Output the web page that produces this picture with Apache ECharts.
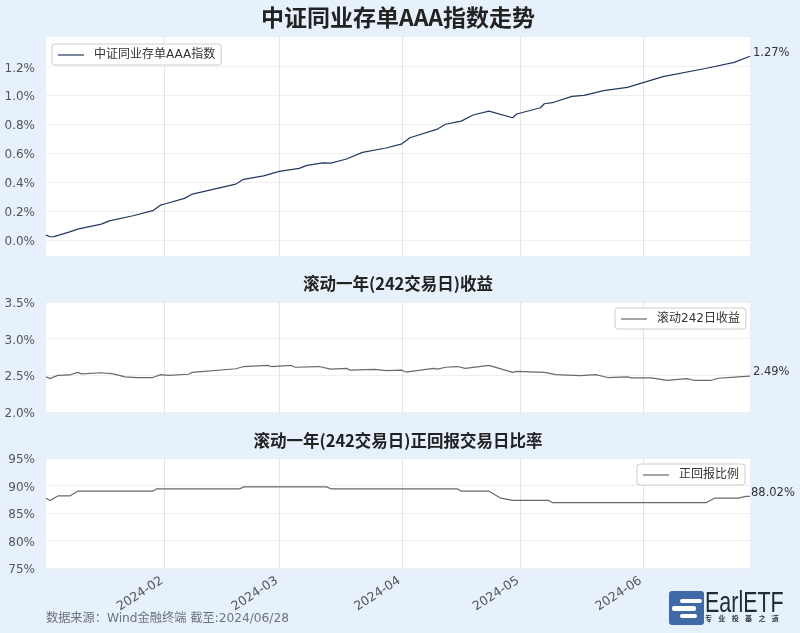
<!DOCTYPE html>
<html>
<head>
<meta charset="utf-8">
<title>中证同业存单AAA指数走势</title>
<script src="https://cdn.jsdelivr.net/npm/echarts@6/dist/echarts.min.js"></script>
<style>
html, body {margin: 0; padding: 0; background: #e7f1fb;}
#main {width: 800px; height: 633px;}
</style>
</head>
<body>
<div id="main"></div>
<script>
var monthTicks = ['2024-02-01', '2024-03-01', '2024-04-01', '2024-05-01', '2024-06-01'];
var indexTicks = [0, 0.2, 0.4, 0.6, 0.8, 1.0, 1.2];

// 指数累计涨幅 %
var indexDates = ['2024-01-02', '2024-01-03', '2024-01-04', '2024-01-08', '2024-01-10', '2024-01-16', '2024-01-18', '2024-01-24', '2024-01-29', '2024-01-31',
    '2024-02-01', '2024-02-06', '2024-02-08', '2024-02-19', '2024-02-21', '2024-02-26', '2024-03-01', '2024-03-06', '2024-03-08', '2024-03-12',
    '2024-03-14', '2024-03-18', '2024-03-22', '2024-03-28', '2024-04-01', '2024-04-03', '2024-04-10', '2024-04-12', '2024-04-15', '2024-04-16',
    '2024-04-19', '2024-04-23', '2024-04-29', '2024-04-30', '2024-05-06', '2024-05-07', '2024-05-09', '2024-05-14', '2024-05-17', '2024-05-22',
    '2024-05-28', '2024-06-06', '2024-06-17', '2024-06-24', '2024-06-28'];
var indexValues = [0.034, 0.023, 0.024, 0.057, 0.076, 0.11, 0.133, 0.168, 0.203, 0.242,
    0.249, 0.288, 0.318, 0.387, 0.42, 0.444, 0.475, 0.495, 0.516, 0.534,
    0.532, 0.56, 0.606, 0.636, 0.665, 0.707, 0.767, 0.80, 0.817, 0.822,
    0.864, 0.891, 0.845, 0.871, 0.914, 0.942, 0.949, 0.993, 1.0, 1.032,
    1.055, 1.129, 1.187, 1.228, 1.27];

// 滚动242日收益 %
var rollDates = ['2024-01-02', '2024-01-03', '2024-01-05', '2024-01-08', '2024-01-10', '2024-01-11', '2024-01-16', '2024-01-19', '2024-01-22', '2024-01-25',
    '2024-01-29', '2024-01-31', '2024-02-02', '2024-02-07', '2024-02-08', '2024-02-19', '2024-02-21', '2024-02-27', '2024-02-28', '2024-03-04',
    '2024-03-05', '2024-03-11', '2024-03-14', '2024-03-18', '2024-03-19', '2024-03-25', '2024-03-28', '2024-04-01', '2024-04-02', '2024-04-09',
    '2024-04-10', '2024-04-12', '2024-04-15', '2024-04-17', '2024-04-23', '2024-04-29', '2024-04-30', '2024-05-07', '2024-05-10', '2024-05-16',
    '2024-05-20', '2024-05-23', '2024-05-28', '2024-05-29', '2024-06-03', '2024-06-07', '2024-06-12', '2024-06-14', '2024-06-18', '2024-06-20',
    '2024-06-25', '2024-06-28'];
var rollValues = [2.48, 2.455, 2.50, 2.505, 2.54, 2.52, 2.535, 2.52, 2.48, 2.47,
    2.47, 2.51, 2.50, 2.515, 2.54, 2.59, 2.62, 2.635, 2.62, 2.635,
    2.61, 2.62, 2.585, 2.595, 2.57, 2.58, 2.565, 2.57, 2.545, 2.595,
    2.585, 2.61, 2.62, 2.595, 2.635, 2.54, 2.555, 2.54, 2.51, 2.495,
    2.51, 2.47, 2.48, 2.465, 2.465, 2.43, 2.455, 2.43, 2.43, 2.46,
    2.48, 2.49];

// 正回报比例 %
var ratioDates = ['2024-01-02', '2024-01-03', '2024-01-05', '2024-01-08', '2024-01-10', '2024-01-29', '2024-01-30', '2024-02-20', '2024-02-21', '2024-03-13',
    '2024-03-14', '2024-04-15', '2024-04-16', '2024-04-23', '2024-04-26', '2024-04-29', '2024-05-08', '2024-05-09', '2024-06-17', '2024-06-19',
    '2024-06-25', '2024-06-27', '2024-06-28'];
var ratioValues = [87.7, 87.26, 88.1, 88.1, 88.96, 88.96, 89.4, 89.4, 89.75, 89.75,
    89.4, 89.4, 88.96, 88.96, 87.7, 87.3, 87.3, 86.9, 86.9, 87.7,
    87.7, 88.02, 88.02];

var fontName = '"DejaVu Sans", "Noto Sans CJK SC", sans-serif';
var cjkName = '"Noto Sans CJK SC", sans-serif';

function toTime(d) {
    return +new Date(d + 'T00:00:00');
}

var startDate = toTime('2024-01-02');
var endDate = toTime('2024-06-28');

function pairs(dates, values) {
    return dates.map(function (d, i) {
        return [toTime(d), values[i]];
    });
}

function makeXAxis(gridIndex, showLabel) {
    var ticks = monthTicks.map(toTime);
    return {
        type: 'value', gridIndex: gridIndex, min: startDate, max: endDate,
        axisLine: {show: false},
        axisTick: {show: false, customValues: ticks},
        splitLine: {show: true, lineStyle: {color: '#e2e4e6', width: 1}},
        axisLabel: {
            show: showLabel, customValues: ticks, rotate: 33, margin: 10,
            color: '#555', fontSize: 12.5, fontFamily: fontName, padding: [0, 3, 0, 0],
            formatter: function (val) {
                var d = new Date(val);
                return d.getFullYear() + '-0' + (d.getMonth() + 1);
            }
        }
    };
}

function makeYAxis(gridIndex, opt, digits) {
    var axis = {
        type: 'value', gridIndex: gridIndex, min: opt.min, max: opt.max,
        axisLine: {show: false}, axisTick: {show: false},
        splitLine: {show: true, lineStyle: {color: '#efefef', width: 1.2}},
        axisLabel: {
            margin: 11, color: '#555', fontSize: 12, fontFamily: fontName,
            rich: {v: {color: '#555', fontSize: 12, fontFamily: fontName, padding: [4, 0, 0, 0]}},
            formatter: function (val) {
                return '{v|' + val.toFixed(digits) + '%}';
            }
        }
    };
    if (opt.interval) axis.interval = opt.interval;
    if (opt.ticks) {
        axis.axisLabel.customValues = opt.ticks;
        axis.axisTick.customValues = opt.ticks;
    }
    return axis;
}

function makeSeries(name, idx, dates, values, color, endText, shift) {
    return {
        name: name, type: 'line', xAxisIndex: idx, yAxisIndex: idx,
        data: pairs(dates, values),
        showSymbol: false, symbol: 'none', smooth: false,
        lineStyle: {color: color, width: 1.2},
        itemStyle: {color: color},
        endLabel: {
            show: true, formatter: endText, offset: shift, distance: 4,
            color: '#333', fontSize: 11.5, fontFamily: fontName
        }
    };
}

function makeLegend(name, pos) {
    return {
        data: [name], left: pos.left, top: pos.top,
        orient: 'horizontal', icon: 'rect', itemWidth: 26, itemHeight: 1.2,
        backgroundColor: '#fff', borderColor: '#ccc', borderWidth: 1, borderRadius: 3,
        padding: [5, 6, 4, 6],
        textStyle: {color: '#333', fontSize: 12, fontFamily: fontName, padding: [0, 0, 0, 5]}
    };
}

function subTitle(text, top, size) {
    return {
        text: text, left: 393, textAlign: 'center', top: top,
        textStyle: {color: '#222', fontSize: size, fontWeight: 'bold', fontFamily: cjkName}
    };
}

var myChart = echarts.init(document.getElementById('main'));
myChart.setOption({
    animation: false,
    backgroundColor: '#e7f1fb',
    title: [
        subTitle('中证同业存单AAA指数走势', 1, 23),
        subTitle('滚动一年(242交易日)收益', 270, 16.5),
        subTitle('滚动一年(242交易日)正回报交易日比率', 427, 16.5)
    ],
    grid: [
        {left: 46, right: 50, top: 37, height: 219, backgroundColor: '#fff', show: true, borderWidth: 0},
        {left: 46, right: 50, top: 302, height: 110, backgroundColor: '#fff', show: true, borderWidth: 0},
        {left: 46, right: 50, top: 458, height: 110, backgroundColor: '#fff', show: true, borderWidth: 0}
    ],
    xAxis: [makeXAxis(0, false), makeXAxis(1, false), makeXAxis(2, true)],
    yAxis: [
        makeYAxis(0, {min: -0.11, max: 1.403, ticks: indexTicks}, 1),
        makeYAxis(1, {min: 2, max: 3.5, interval: 0.5}, 1),
        makeYAxis(2, {min: 75, max: 95, interval: 5}, 0)
    ],
    legend: [
        makeLegend('中证同业存单AAA指数', {left: 52, top: 44}),
        makeLegend('滚动242日收益', {left: 615, top: 308}),
        makeLegend('正回报比例', {left: 637, top: 464})
    ],
    series: [
        makeSeries('中证同业存单AAA指数', 0, indexDates, indexValues, '#223a5e', '1.27%', [-1, -3]),
        makeSeries('滚动242日收益', 1, rollDates, rollValues, '#6a6a6a', '2.49%', [-1, -4]),
        makeSeries('正回报比例', 2, ratioDates, ratioValues, '#6a6a6a', '88.02%', [-3, -3])
    ],
    graphic: [
        {type: 'text', left: 46, top: 613, style: {text: '数据来源：Wind金融终端 截至:2024/06/28', fill: '#6b7280', fontSize: 12.2, fontFamily: fontName}},
        {type: 'rect', left: 669, top: 591, shape: {width: 35, height: 34, r: 3}, style: {fill: '#3f6aa5'}},
        {type: 'rect', left: 680, top: 599, shape: {width: 22, height: 4, r: 2}, style: {fill: '#fff'}},
        {type: 'rect', left: 672, top: 606, shape: {width: 24, height: 5, r: 2}, style: {fill: '#fff'}},
        {type: 'rect', left: 680, top: 614, shape: {width: 17, height: 4, r: 2}, style: {fill: '#fff'}},
        {type: 'text', x: 705, y: 589, scaleX: 0.74, style: {text: 'EarlETF', fill: '#222b38', fontSize: 29, fontFamily: '"Liberation Sans", sans-serif'}},
        {type: 'text', left: 705, top: 615, style: {text: '专    业    投    基    之    道', fill: '#2b3442', fontSize: 7, fontWeight: 'bold', fontFamily: cjkName}}
    ]
});
</script>
</body>
</html>
